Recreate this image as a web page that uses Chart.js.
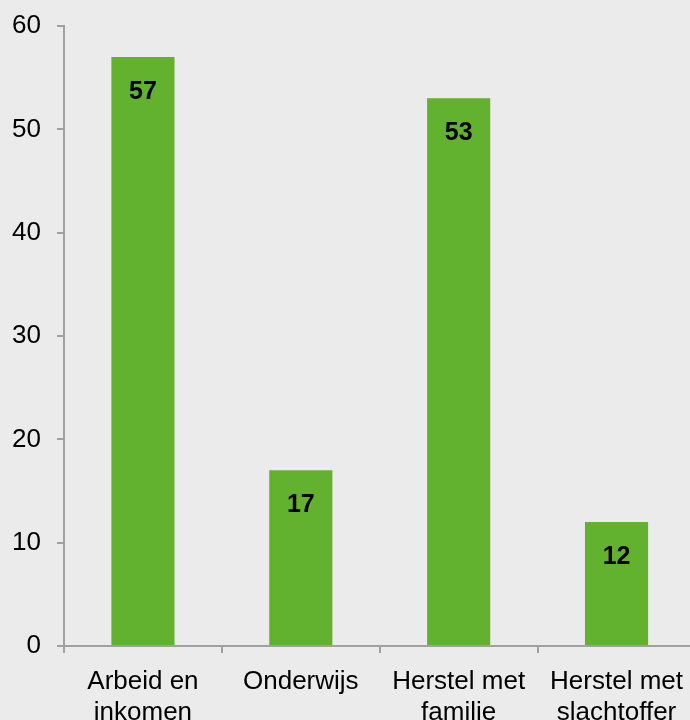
<!DOCTYPE html>
<html>
<head>
<meta charset="utf-8">
<script src="https://cdn.jsdelivr.net/npm/chart.js@4.4.1/dist/chart.umd.min.js"></script>
<style>
  html, body { margin: 0; padding: 0; background: #ebebeb; overflow: hidden; }
  canvas { display: block; }
</style>
</head>
<body>
<canvas id="chart" width="696" height="720"></canvas>
<script>
// categorieën en waarden
const categories = [
  ['Arbeid en', 'inkomen'],
  'Onderwijs',
  ['Herstel met', 'familie'],
  ['Herstel met', 'slachtoffer']
];
const values = [57, 17, 53, 12];
const yTicks = [0, 10, 20, 30, 40, 50, 60];

const axisGray = '#a0a0a0';
const fontFamily = '"Liberation Sans", Arial, sans-serif';

// waarde in de balk, net onder de bovenkant
const barLabels = {
  id: 'barLabels',
  afterDatasetsDraw(chart) {
    const ctx = chart.ctx;
    const meta = chart.getDatasetMeta(0);
    ctx.save();
    ctx.font = 'bold 25px ' + fontFamily;
    ctx.fillStyle = '#000';
    ctx.textAlign = 'center';
    ctx.textBaseline = 'middle';
    meta.data.forEach((bar, i) => {
      ctx.fillText(values[i], bar.x, bar.y + 35);
    });
    ctx.restore();
  }
};

new Chart(document.getElementById('chart'), {
  type: 'bar',
  data: {
    labels: categories,
    datasets: [{
      data: values,
      backgroundColor: '#63b22f',
      barPercentage: 0.4,
      categoryPercentage: 1.0
    }]
  },
  options: {
    responsive: false,
    animation: false,
    layout: { padding: { top: 26, right: 0, left: 0, bottom: 0 } },
    plugins: {
      legend: { display: false },
      tooltip: { enabled: false }
    },
    scales: {
      x: {
        grid: {
          offset: true,
          drawOnChartArea: false,
          drawTicks: true,
          tickLength: 7,
          color: axisGray,
          lineWidth: 2
        },
        border: { color: axisGray, width: 2 },
        ticks: {
          color: '#000',
          padding: 13,
          maxRotation: 0,
          autoSkip: false,
          font: { family: fontFamily, size: 26, lineHeight: 1.2 }
        },
        afterFit(scale) { scale.height = 74; }
      },
      y: {
        min: 0,
        max: 60,
        afterBuildTicks(scale) { scale.ticks = yTicks.map(v => ({ value: v })); },
        grid: {
          drawOnChartArea: false,
          drawTicks: true,
          tickLength: 7,
          color: axisGray,
          lineWidth: 2
        },
        border: { color: axisGray, width: 2 },
        ticks: {
          color: '#000',
          padding: 16,
          font: { family: fontFamily, size: 26 }
        },
        afterFit(scale) {
          scale.width = 64;
          scale.paddingTop = 0;
          scale.paddingBottom = 0;
        }
      }
    }
  },
  plugins: [barLabels]
});
</script>
</body>
</html>
